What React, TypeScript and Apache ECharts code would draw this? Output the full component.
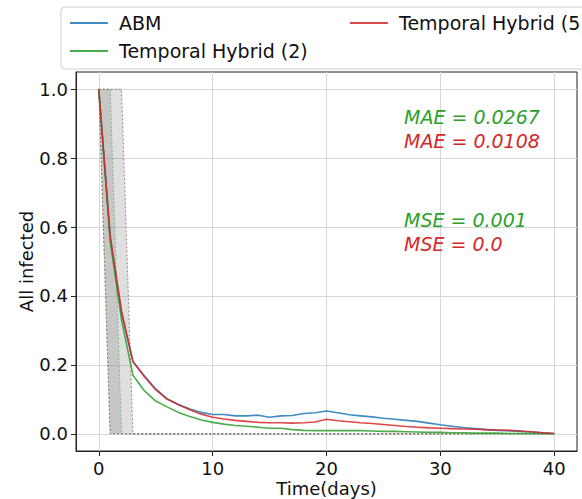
import React, { useEffect, useRef } from "react";
import * as echarts from "echarts";

const days = [0, 1, 2, 3, 4, 5, 6, 7, 8, 9, 10, 11, 12, 13, 14, 15, 16, 17, 18, 19, 20, 21, 22, 23, 24, 25, 26, 27, 28, 29, 30, 31, 32, 33, 34, 35, 36, 37, 38, 39, 40];
const abm = [1.0, 0.57, 0.35, 0.21, 0.168, 0.13, 0.102, 0.085, 0.072, 0.062, 0.056, 0.056, 0.052, 0.052, 0.054, 0.048, 0.052, 0.053, 0.059, 0.061, 0.066, 0.061, 0.055, 0.052, 0.049, 0.045, 0.042, 0.039, 0.036, 0.031, 0.026, 0.022, 0.018, 0.015, 0.012, 0.01, 0.009, 0.007, 0.005, 0.003, 0.001];
const th2 = [1.0, 0.56, 0.33, 0.17, 0.125, 0.095, 0.078, 0.062, 0.05, 0.04, 0.033, 0.028, 0.024, 0.022, 0.019, 0.016, 0.016, 0.012, 0.01, 0.009, 0.009, 0.009, 0.009, 0.009, 0.008, 0.007, 0.007, 0.006, 0.005, 0.004, 0.004, 0.003, 0.003, 0.002, 0.002, 0.002, 0.001, 0.001, 0.001, 0.0, 0.0];
const th5 = [1.0, 0.575, 0.355, 0.21, 0.166, 0.128, 0.1, 0.084, 0.07, 0.057, 0.048, 0.043, 0.039, 0.036, 0.033, 0.032, 0.032, 0.031, 0.032, 0.034, 0.042, 0.038, 0.035, 0.032, 0.03, 0.027, 0.024, 0.021, 0.019, 0.017, 0.016, 0.015, 0.014, 0.013, 0.012, 0.011, 0.01, 0.008, 0.006, 0.003, 0.001];

// uncertainty bands (breakpoints)
const bandLowerX = [0, 1, 40];
const bandLowerY = [1, 0, 0];
const band2UpperX = [0, 1, 2, 40];
const band2UpperY = [1, 1, 0, 0];
const band5UpperX = [0, 1, 2, 3, 40];
const band5UpperY = [1, 1, 1, 0, 0];

const xTicks = [0, 10, 20, 30, 40];
const yTicks = [0, 0.2, 0.4, 0.6, 0.8, 1.0];

const seriesNames = ["ABM", "Temporal Hybrid (2)", "Temporal Hybrid (5)"];
const annotations = ["MAE = 0.0267", "MAE = 0.0108", "MSE = 0.001", "MSE = 0.0"];

const BLUE = "#1f77b4";
const GREEN = "#2ca02c";
const RED = "#d62728";
const FONT = "DejaVu Sans";

export default function App() {
  const ref = useRef<HTMLDivElement>(null);
  useEffect(() => {
    if (!ref.current) return;
    const chart = echarts.init(ref.current, undefined, { renderer: "svg" });
    const bands = [
      { ux: band2UpperX, uy: band2UpperY, stroke: "rgba(44,160,44,0.55)" },
      { ux: band5UpperX, uy: band5UpperY, stroke: "rgba(150,110,110,0.85)" },
    ];
    const lineSeries = (name: string, vals: number[], color: string) => ({
      type: "line",
      name,
      data: days.map((d, i) => [d, vals[i]]),
      showSymbol: false,
      symbol: "none",
      lineStyle: { color, width: 1.6, opacity: 0.85 },
      itemStyle: { color, opacity: 0.85 },
      z: 3,
    });
    const annColors = [GREEN, RED, GREEN, RED];
    const annY = [117, 141, 220, 244];
    const legendCommon = {
      orient: "vertical",
      top: 8,
      icon: "rect",
      itemWidth: 38,
      itemHeight: 2,
      itemGap: 8,
      textStyle: { fontSize: 19, color: "#111", fontFamily: FONT, lineHeight: 20, padding: [0, 0, 0, 6] },
    };
    chart.setOption({
      animation: false,
      textStyle: { fontFamily: FONT },
      grid: {
        left: 76,
        right: 5,
        top: 72,
        bottom: 48,
        show: true,
        borderColor: "#222",
        borderWidth: 1,
        outerBoundsMode: "none",
        containLabel: false,
      },
      xAxis: {
        type: "value",
        min: -2,
        max: 42,
        name: "Time(days)",
        nameLocation: "middle",
        nameGap: 28,
        nameMoveOverlap: false,
        nameTextStyle: { fontSize: 18, color: "#111", fontFamily: FONT, verticalAlign: "top" },
        axisLine: { show: true, onZero: false, lineStyle: { color: "#222" } },
        axisTick: { show: true, length: 5, customValues: xTicks, lineStyle: { color: "#222" } },
        axisLabel: { fontSize: 18, color: "#111", margin: 8, customValues: xTicks, fontFamily: FONT },
        splitLine: { show: true, lineStyle: { color: "#d6d6d6", width: 1 } },
      },
      yAxis: {
        type: "value",
        min: -0.05,
        max: 1.05,
        name: "All infected",
        nameLocation: "middle",
        nameGap: 41,
        nameMoveOverlap: false,
        nameTextStyle: { fontSize: 18, color: "#111", fontFamily: FONT },
        axisLine: { show: true, onZero: false, lineStyle: { color: "#222" } },
        axisTick: { show: true, length: 5, customValues: yTicks, lineStyle: { color: "#222" } },
        axisLabel: {
          fontSize: 18,
          color: "#111",
          margin: 8,
          customValues: yTicks,
          fontFamily: FONT,
          formatter: (v: number) => v.toFixed(1),
        },
        splitLine: { show: true, lineStyle: { color: "#d6d6d6", width: 1 } },
      },
      legend: [
        { ...legendCommon, data: [seriesNames[0], seriesNames[1]], left: 65 },
        { ...legendCommon, data: [seriesNames[2]], left: 345 },
      ],
      graphic: [
        {
          type: "rect",
          shape: { x: 61, y: 7, width: 540, height: 62, r: 4 },
          style: { fill: "rgba(255,255,255,0.8)", stroke: "#d0d0d0", lineWidth: 1 },
          z: -1,
        },
        ...annotations.map((t, i) => ({
          type: "text",
          x: 404,
          y: annY[i],
          style: {
            text: t,
            fill: annColors[i],
            font: `italic 19px "${FONT}"`,
            verticalAlign: "middle",
          },
          z: 10,
        })),
      ],
      series: [
        {
          type: "custom",
          name: "band",
          data: [[0, 1], [0, 1]],
          z: 1,
          silent: true,
          renderItem: (params: any, api: any) => {
            const b = bands[params.dataIndex];
            const pts: number[][] = [];
            b.ux.forEach((x, i) => pts.push(api.coord([x, b.uy[i]])));
            for (let i = bandLowerX.length - 1; i >= 0; i--) pts.push(api.coord([bandLowerX[i], bandLowerY[i]]));
            return {
              type: "polygon",
              shape: { points: pts },
              style: { fill: "rgba(128,128,128,0.25)", stroke: b.stroke, lineWidth: 1, lineDash: [2, 2] },
            };
          },
        },
        lineSeries(seriesNames[0], abm, BLUE),
        lineSeries(seriesNames[1], th2, GREEN),
        lineSeries(seriesNames[2], th5, RED),
      ],
    });
    return () => chart.dispose();
  }, []);
  return <div ref={ref} style={{ width: 582, height: 499, position: "absolute", left: 0, top: 0 }} />;
}
